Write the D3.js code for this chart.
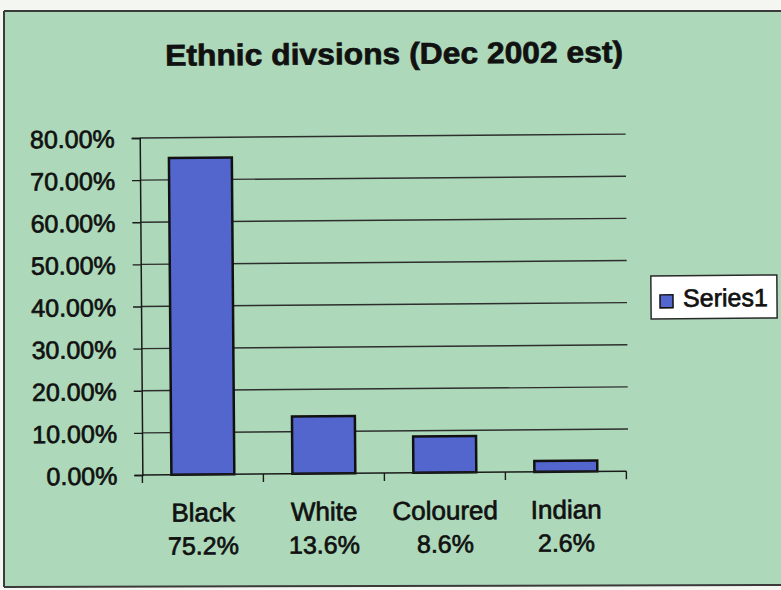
<!DOCTYPE html>
<html>
<head>
<meta charset="utf-8">
<script src="https://cdn.jsdelivr.net/npm/d3@7/dist/d3.min.js"></script>
<style>
  html, body { margin: 0; padding: 0; background: #ffffff; }
  svg { display: block; }
  text { font-family: "Liberation Sans", Arial, sans-serif; fill: #111111; }
  .ink { stroke: #111111; stroke-width: 0.7px; paint-order: stroke; }
</style>
</head>
<body>
<script>
// Ethnic divisions, December 2002 estimate
const categories = ["Black", "White", "Coloured", "Indian"];
const shares = [0.752, 0.136, 0.086, 0.026];
const yTickValues = [0, 0.1, 0.2, 0.3, 0.4, 0.5, 0.6, 0.7, 0.8];
const titleText = "Ethnic divsions (Dec 2002 est)";
const seriesName = "Series1";

const W = 781, H = 590;
const plot = { left: 141, right: 625, top: 136, bottom: 473 };

const svg = d3.select("body").append("svg")
  .attr("width", W).attr("height", H);

// chart frame background
svg.append("rect").attr("x", 0).attr("y", 0).attr("width", W).attr("height", H).attr("fill", "#f4f6f2");
svg.append("rect").attr("x", 4).attr("y", 11).attr("width", W - 4).attr("height", 575)
  .attr("fill", "#add9ba");
svg.append("line").attr("x1", 4).attr("x2", W).attr("y1", 11).attr("y2", 11)
  .attr("stroke", "#3a3a3a").attr("stroke-width", 2);
svg.append("line").attr("x1", 4).attr("x2", 4).attr("y1", 11).attr("y2", 587)
  .attr("stroke", "#3a3a3a").attr("stroke-width", 2);
svg.append("line").attr("x1", 4).attr("x2", W).attr("y1", 587).attr("y2", 585)
  .attr("stroke", "#3a3a3a").attr("stroke-width", 2);

const g = svg.append("g").attr("transform", "rotate(-0.45 390 300)");

const x = d3.scaleBand().domain(categories)
  .range([plot.left, plot.right])
  .paddingInner(0.48).paddingOuter(0.24);
const y = d3.scaleLinear().domain([0, 0.8]).range([plot.bottom, plot.top]);
const pct2 = d3.format(".2%");
const pct1 = d3.format(".1%");

// title
g.append("text")
  .attr("x", 396).attr("y", 64)
  .attr("text-anchor", "middle")
  .attr("font-size", 30).attr("font-weight", "bold")
  .attr("textLength", 458).attr("lengthAdjust", "spacingAndGlyphs")
  .attr("class", "ink")
  .text(titleText);

// horizontal gridlines
g.append("g").selectAll("line").data(yTickValues.filter(v => v > 0)).join("line")
  .attr("x1", plot.left).attr("x2", plot.right + 2)
  .attr("y1", d => y(d)).attr("y2", d => y(d))
  .attr("stroke", "#2e2e2e").attr("stroke-width", 1.4);

// y axis
const yAxis = g.append("g").attr("transform", `translate(${plot.left},0)`)
  .call(d3.axisLeft(y).tickValues(yTickValues).tickFormat(pct2).tickSize(8).tickPadding(17));
yAxis.select(".domain").attr("stroke", "#1a1a1a").attr("stroke-width", 1.5);
yAxis.selectAll(".tick line").attr("stroke", "#1a1a1a").attr("stroke-width", 1.4);
yAxis.selectAll(".tick text").attr("font-size", 25).attr("fill", "#111111")
  .attr("class", "ink")
  .attr("font-family", "Liberation Sans, Arial, sans-serif").attr("dy", "0.36em");

// bars
g.append("g").selectAll("rect").data(categories).join("rect")
  .attr("x", d => x(d))
  .attr("y", (d, i) => y(shares[i]))
  .attr("width", x.bandwidth())
  .attr("height", (d, i) => y(0) - y(shares[i]))
  .attr("fill", "#5266cd")
  .attr("stroke", "#111111").attr("stroke-width", 2.5);

// x axis baseline and category ticks
g.append("line")
  .attr("x1", plot.left).attr("x2", plot.right)
  .attr("y1", y(0)).attr("y2", y(0))
  .attr("stroke", "#1a1a1a").attr("stroke-width", 1.5);
const boundaries = categories.map(c => x(c) - x.step() * x.paddingInner() / 2)
  .concat([x.range()[1]]);
g.append("g").selectAll("line").data(boundaries).join("line")
  .attr("x1", d => d).attr("x2", d => d)
  .attr("y1", y(0)).attr("y2", y(0) + 8)
  .attr("stroke", "#1a1a1a").attr("stroke-width", 1.4);

// category labels with their shares
const labels = g.append("g").selectAll("g").data(categories).join("g")
  .attr("transform", d => `translate(${x(d) + x.bandwidth() / 2},0)`);
labels.append("text").attr("y", 520).attr("text-anchor", "middle")
  .attr("font-size", 26).attr("class", "ink").text(d => d);
labels.append("text").attr("y", 553).attr("text-anchor", "middle")
  .attr("font-size", 25).attr("class", "ink").text((d, i) => pct1(shares[i]));

// legend
const legend = g.append("g");
legend.append("rect").attr("x", 651).attr("y", 278).attr("width", 126).attr("height", 43)
  .attr("fill", "#ffffff").attr("stroke", "#2a2a2a").attr("stroke-width", 1.5);
legend.append("rect").attr("x", 660).attr("y", 297).attr("width", 13).attr("height", 13)
  .attr("fill", "#5266cd").attr("stroke", "#111111").attr("stroke-width", 1.5);
legend.append("text").attr("x", 683).attr("y", 309)
  .attr("font-size", 25).attr("class", "ink").text(seriesName);
</script>
</body>
</html>
